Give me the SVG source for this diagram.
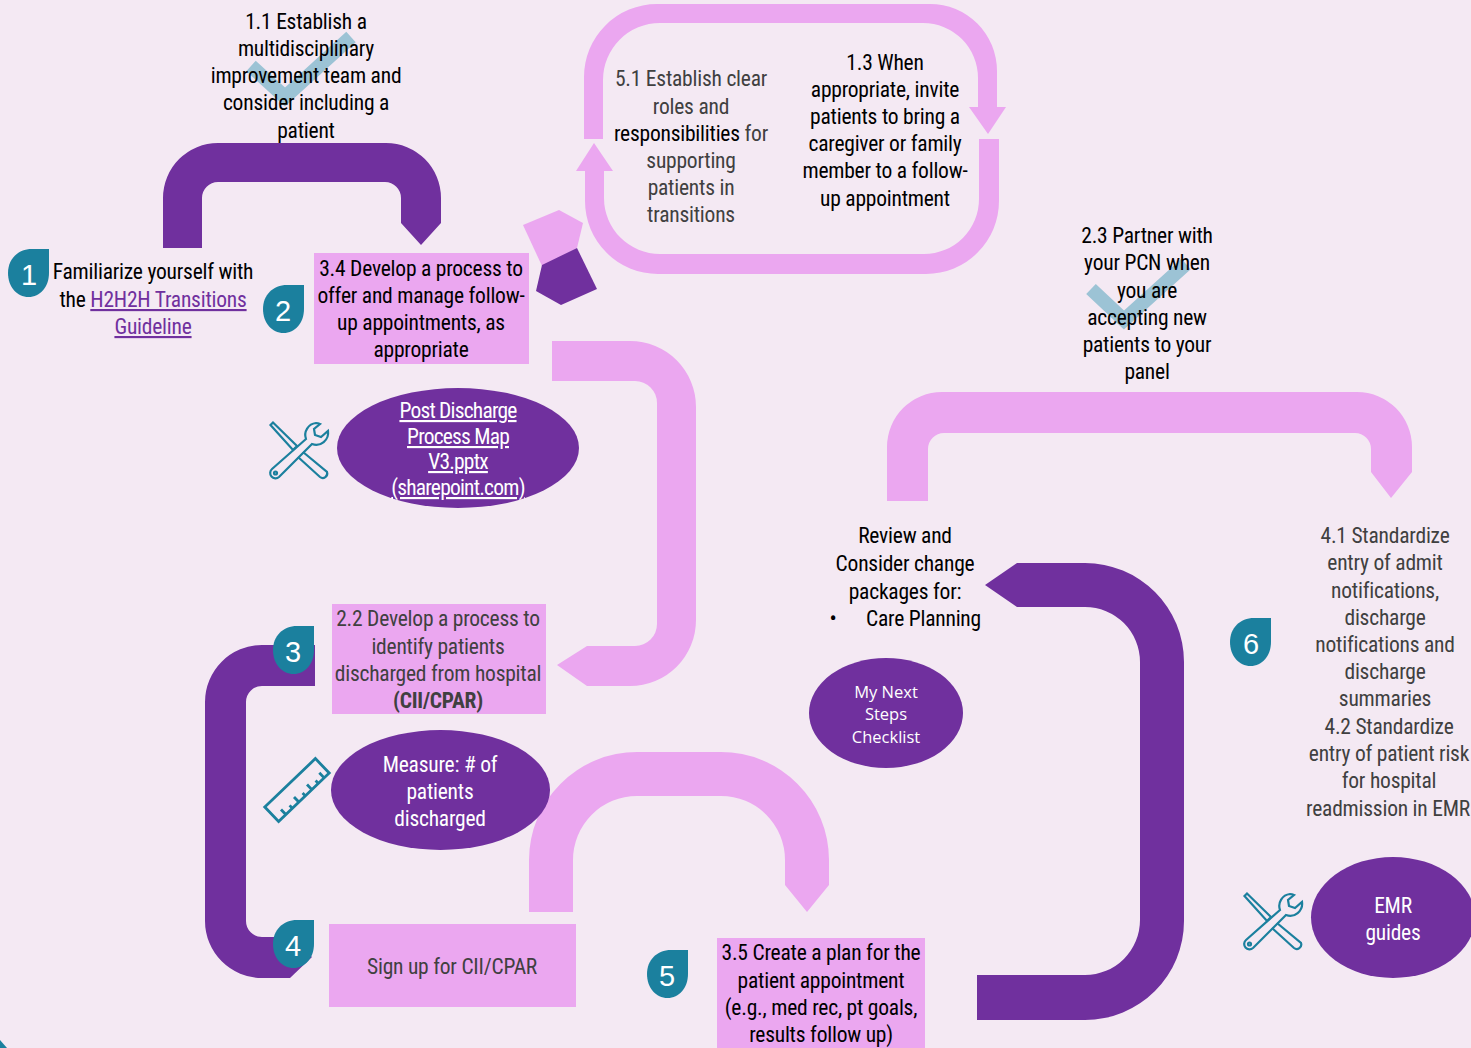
<svg xmlns="http://www.w3.org/2000/svg" width="1471" height="1048" viewBox="0 0 1471 1048">
<style>
.p{fill:#EBA7F0}.d{fill:#70309E}
text{font-family:"Liberation Sans Narrow","Roboto Condensed","Liberation Sans",sans-serif;font-size:21.500px;letter-spacing:-0.220px;text-anchor:middle;fill:#000}
.g{fill:#404040}.w{fill:#fff}.l{fill:#70309E;text-decoration:underline}.u{text-decoration:underline;letter-spacing:-0.800px}.b{font-weight:bold}
.n{font-family:"Liberation Sans",sans-serif;font-size:29px;letter-spacing:0;fill:#fff}
.o{font-family:"Open Sans",sans-serif;font-size:16.500px;letter-spacing:0;fill:#fff}
.i{fill:none;stroke:#1B809E;stroke-width:2.200}
.r{fill:none;stroke:#1B809E;stroke-width:2.800}
.c{fill:none;stroke:#9CC3D5;stroke-width:14}
</style>
<defs>
<path id="drop" fill="#1B809E" d="M41 0V24C41 38 32 48 20.500 48C9 48 0 38 0 24C0 10 10 0 24 0Z"/>
<g id="tools" class="i">
<path d="M0.500 3L3 0.500L27 24L23 28ZM33 30L57 50A4.500 4.500 0 0 1 50 55L28 35"/>
<path d="M46 1A12 12 0 0 0 36 17L2 47A5 5 0 0 0 9 55L42 22A12 12 0 0 0 58 9L51 15L45 13L44 7L50 2A12 12 0 0 0 46 1Z"/>
<circle cx="5.500" cy="51" r="1.500"/>
</g>
</defs>
<rect width="1471" height="1048" fill="#F4E9F3"/>
<g id="connectors">
<path class="d" d="M163 248V198A55 55 0 0 1 218 143H386A55 55 0 0 1 441 198V223L421 245L401 223V198A16 16 0 0 0 385 182H218A16 16 0 0 0 202 198V248Z"/>
<path class="p" d="M584 139V77A73 73 0 0 1 657 4H930A67 67 0 0 1 997 71V107H1006L988 134L969 107H978V78A55 55 0 0 0 923 23H660A57 57 0 0 0 603 80V139Z"/>
<path class="p" d="M979 139H999V201A73 73 0 0 1 926 274H658A73 73 0 0 1 585 201V171H576L594 143L613 171H604V198A56 56 0 0 0 660 254H924A55 55 0 0 0 979 199Z"/>
<path class="p" d="M552 341H630A66 66 0 0 1 696 407V620A66 66 0 0 1 630 686H587L557 665L587 646H635A22 22 0 0 0 657 624V403A22 22 0 0 0 635 381H552Z"/>
<path class="d" d="M315 645V686H262A16 16 0 0 0 246 702V921A16 16 0 0 0 262 937H290L312 957L290 978H262A57 57 0 0 1 205 921V702A57 57 0 0 1 262 645Z"/>
<path class="p" d="M529 912V860A108 108 0 0 1 637 752H721A108 108 0 0 1 829 860V885L807 912L785 885V860A64 64 0 0 0 721 796H637A64 64 0 0 0 573 860V912Z"/>
<path class="p" d="M887 501V447A55 55 0 0 1 942 392H1357A55 55 0 0 1 1412 447V472L1391 498L1371 472V449A16 16 0 0 0 1355 433H944A16 16 0 0 0 928 449V501Z"/>
<path class="d" d="M977 1020H1085A99 99 0 0 0 1184 921V662A99 99 0 0 0 1085 563H1017L985 585L1017 607H1085A55 55 0 0 1 1140 662V920A55 55 0 0 1 1085 975H977Z"/>
<polygon class="p" points="523,225 559,210 583,223 577,248 542,266"/>
<polygon class="d" points="542,265 577,248 597,289 561,305 536,291"/>
</g>
<g id="corner"><path fill="#1B809E" d="M0 1040L7 1048H0Z"/></g>
<g id="check1"><polyline class="c" points="251,66 285,97 351,37"/></g>
<g id="check2"><polyline class="c" points="1091,289 1124,320 1186,264"/></g>
<g id="step1-1"><text><tspan x="306" y="29">1.1 Establish a</tspan><tspan x="306" y="56">multidisciplinary</tspan><tspan x="306" y="83">improvement team and</tspan><tspan x="306" y="110">consider including a</tspan><tspan x="306" y="138">patient</tspan></text></g>
<g id="node1"><use href="#drop" x="8" y="249"/><text class="n" x="29" y="285">1</text>
<text><tspan x="153" y="279">Familiarize yourself with</tspan><tspan x="153" y="307">the <tspan class="l">H2H2H Transitions</tspan></tspan><tspan x="153" y="334" class="l">Guideline</tspan></text></g>
<g id="node2"><use href="#drop" x="263" y="285"/><text class="n" x="283" y="321">2</text>
<rect class="p" x="314" y="253" width="215" height="111"/>
<text><tspan x="421" y="276">3.4 Develop a process to</tspan><tspan x="421" y="303">offer and manage follow-</tspan><tspan x="421" y="330">up appointments, as</tspan><tspan x="421" y="357">appropriate</tspan></text></g>
<g id="tool-map"><use href="#tools" x="270" y="422"/><ellipse class="d" cx="458" cy="448" rx="121" ry="60"/>
<text class="w u"><tspan x="458" y="418">Post Discharge</tspan><tspan x="458" y="444">Process Map</tspan><tspan x="458" y="469">V3.pptx</tspan><tspan x="458" y="495">(sharepoint.com)</tspan></text></g>
<g id="node5-1"><text class="g"><tspan x="691" y="86">5.1 Establish clear</tspan><tspan x="691" y="114">roles and</tspan><tspan x="691" y="141"><tspan fill="#000">responsibilities</tspan> for</tspan><tspan x="691" y="168">supporting</tspan><tspan x="691" y="195">patients in</tspan><tspan x="691" y="222">transitions</tspan></text></g>
<g id="node1-3"><text><tspan x="885" y="70">1.3 When</tspan><tspan x="885" y="97">appropriate, invite</tspan><tspan x="885" y="124">patients to bring a</tspan><tspan x="885" y="151">caregiver or family</tspan><tspan x="885" y="178">member to a follow-</tspan><tspan x="885" y="206">up appointment</tspan></text></g>
<g id="node2-3"><text><tspan x="1147" y="243">2.3 Partner with</tspan><tspan x="1147" y="270">your PCN when</tspan><tspan x="1147" y="298">you are</tspan><tspan x="1147" y="325">accepting new</tspan><tspan x="1147" y="352">patients to your</tspan><tspan x="1147" y="379">panel</tspan></text></g>
<g id="node3"><use href="#drop" x="273" y="626"/><text class="n" x="293" y="662">3</text>
<rect class="p" x="332" y="604" width="214" height="110"/>
<text class="g"><tspan x="438" y="626">2.2 Develop a process to</tspan><tspan x="438" y="654">identify patients</tspan><tspan x="438" y="681">discharged from hospital</tspan><tspan x="438" y="708" class="b">(CII/CPAR)</tspan></text></g>
<g id="measure"><g transform="translate(297,790) rotate(-43.700)" class="r"><rect x="-35" y="-10" width="70" height="20"/><path d="M-25 10V3M-16 10V6M-7 10V3M2 10V6M11 10V3M20 10V6M28 10V3"/></g>
<ellipse class="d" cx="440.500" cy="790" rx="109.500" ry="60"/>
<text class="w"><tspan x="440" y="772">Measure: # of</tspan><tspan x="440" y="799">patients</tspan><tspan x="440" y="826">discharged</tspan></text></g>
<g id="node4"><use href="#drop" x="273" y="920"/><text class="n" x="293" y="956">4</text>
<rect class="p" x="329" y="924" width="247" height="83"/><text class="g" x="452" y="974">Sign up for CII/CPAR</text></g>
<g id="node5"><use href="#drop" x="647" y="950"/><text class="n" x="667" y="986">5</text>
<rect class="p" x="717" y="938" width="208" height="110"/>
<text><tspan x="821" y="960">3.5 Create a plan for the</tspan><tspan x="821" y="988">patient appointment</tspan><tspan x="821" y="1015">(e.g., med rec, pt goals,</tspan><tspan x="821" y="1042">results follow up)</tspan></text></g>
<g id="review"><text><tspan x="905" y="543">Review and</tspan><tspan x="905" y="571">Consider change</tspan><tspan x="905" y="599">packages for:</tspan></text><text x="833" y="626">•</text><text x="866" y="626" style="text-anchor:start">Care Planning</text></g>
<g id="next-steps"><ellipse class="d" cx="886" cy="713" rx="77" ry="55"/><text class="o"><tspan x="886" y="698">My Next</tspan><tspan x="886" y="720">Steps</tspan><tspan x="886" y="743">Checklist</tspan></text></g>
<g id="node6"><use href="#drop" x="1230" y="618"/><text class="n" x="1251" y="654">6</text>
<text class="g"><tspan x="1385" y="543">4.1 Standardize</tspan><tspan x="1385" y="570">entry of admit</tspan><tspan x="1385" y="598">notifications,</tspan><tspan x="1385" y="625">discharge</tspan><tspan x="1385" y="652">notifications and</tspan><tspan x="1385" y="679">discharge</tspan><tspan x="1385" y="706">summaries</tspan><tspan x="1389" y="734">4.2 Standardize</tspan><tspan x="1389" y="761">entry of patient risk</tspan><tspan x="1389" y="788">for hospital</tspan><tspan x="1388" y="816">readmission in EMR</tspan></text></g>
<g id="emr"><use href="#tools" x="1244" y="893"/><ellipse class="d" cx="1393" cy="917.500" rx="82" ry="60.500"/><text class="w"><tspan x="1393" y="913">EMR</tspan><tspan x="1393" y="940">guides</tspan></text></g>
</svg>
